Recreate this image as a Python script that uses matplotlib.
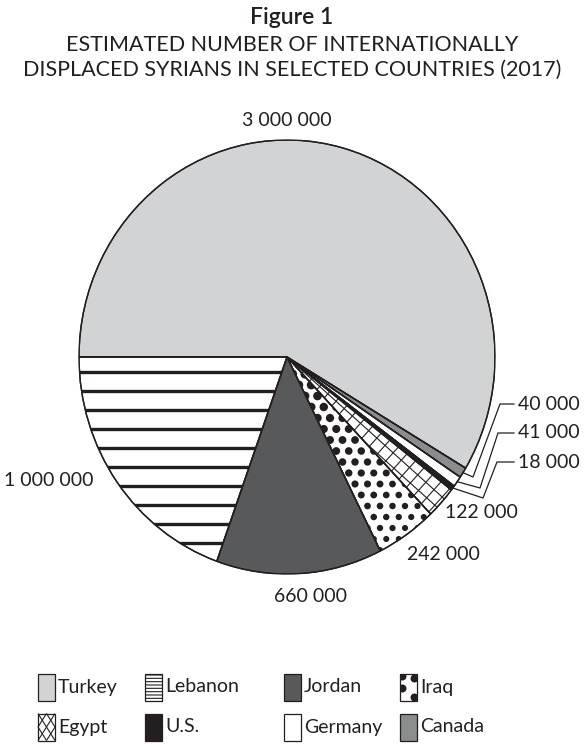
import numpy as np
import matplotlib.pyplot as plt
from matplotlib.patches import Rectangle, Wedge
from matplotlib.collections import LineCollection

# data, clockwise from the left edge
countries = ['Turkey', 'Canada', 'Germany', 'U.S.', 'Egypt', 'Iraq', 'Jordan', 'Lebanon']
people = [3000000, 40000, 41000, 18000, 122000, 242000, 660000, 1000000]
labels = ['3 000 000', '40 000', '41 000', '18 000', '122 000', '242 000', '660 000', '1 000 000']
colors = ['#d1d3d4', '#8a8c8e', 'white', '#231f20', 'white', 'white', '#58595b', 'white']
legend_order = ['Turkey', 'Lebanon', 'Jordan', 'Iraq', 'Egypt', 'U.S.', 'Germany', 'Canada']

FONT = 'Lato'
INK = '#231f20'
W, H = 584, 744
CX, CY, RX, RY = 287, 357, 208, 217   # pie centre / radii in pixels


def to_px(x, y):
    return CX + RX * x, CY - RY * y


def to_data(px, py):
    return (px - CX) / RX, (CY - py) / RY


fig = plt.figure(figsize=(W / 100, H / 100), dpi=100)
ax = fig.add_axes([(CX - RX) / W, (H - CY - RY) / H, 2 * RX / W, 2 * RY / H])
wedges, _ = ax.pie(people, colors=colors, startangle=180, counterclock=False,
                   radius=1, wedgeprops=dict(edgecolor=INK, linewidth=1.0))
ax.set_xlim(-1, 1)
ax.set_ylim(-1, 1)
ax.set_aspect('auto')
ax.axis('off')

# Lebanon: thick horizontal lines
leb = wedges[countries.index('Lebanon')]
segs = [[to_data(40, y), to_data(320, y)] for y in np.arange(372, 590, 19)]
lc = LineCollection(segs, colors=INK, linewidths=2.4, zorder=2)
ax.add_collection(lc)
lc.set_clip_path(leb)

# Egypt: grid turned along the slice
egy = wedges[countries.index('Egypt')]
phi = np.radians((egy.theta1 + egy.theta2) / 2)
d = np.array([np.cos(phi), -np.sin(phi)])
n = np.array([-d[1], d[0]])
segs = []
for k in range(-30, 31):
    for a, b in [(d, n), (n, d)]:
        p0 = np.array([CX, CY]) + b * k * 11 - a * 300
        p1 = np.array([CX, CY]) + b * k * 11 + a * 300
        segs.append([to_data(*p0), to_data(*p1)])
lc2 = LineCollection(segs, colors=INK, linewidths=0.8, zorder=2)
ax.add_collection(lc2)
lc2.set_clip_path(egy)

# Iraq: dots, smaller toward the rim
irq = wedges[countries.index('Iraq')]
pts = []
for j, py in enumerate(np.arange(352, 590, 11)):
    off = 6.25 if j % 2 else 0
    for px in np.arange(280 + off, 500, 12.5):
        pts.append((px, py))
pts = np.array(pts)
r = np.hypot((pts[:, 0] - CX) / RX, (pts[:, 1] - CY) / RY)
dia = 9.5 - 3.5 * r
xy = np.array([to_data(px, py) for px, py in pts])
sc = ax.scatter(xy[:, 0], xy[:, 1], s=(dia * 0.72) ** 2, color=INK, lw=0, zorder=2)
sc.set_clip_path(irq)

# outlines on top of the textures
for w in wedges:
    ax.add_patch(Wedge((0, 0), 1, w.theta1, w.theta2, fc='none', ec=INK, lw=1.0, zorder=3))

# overlay in pixel coordinates for text, leaders and legend
lay = fig.add_axes([0, 0, 1, 1])
lay.set_xlim(0, W)
lay.set_ylim(H, 0)
lay.axis('off')

lay.text(292, 18, 'Figure 1', ha='center', va='center', fontsize=16.5,
         family=FONT, weight='semibold', color=INK)
lay.text(292, 45, 'ESTIMATED NUMBER OF INTERNATIONALLY', ha='center', va='center',
         fontsize=15.5, family=FONT, color=INK)
lay.text(292, 70, 'DISPLACED SYRIANS IN SELECTED COUNTRIES (2017)', ha='center',
         va='center', fontsize=15.5, family=FONT, color=INK)

label_pos = [(287, 121, 'center'), (518, 404, 'left'), (518, 433, 'left'),
             (518, 462, 'left'), (445, 513, 'left'), (407, 555, 'left'),
             (311, 597, 'center'), (4, 481, 'left')]
for lab, (x, y, ha) in zip(labels, label_pos):
    lay.text(x, y, lab, ha=ha, va='center', fontsize=14, family=FONT, color=INK)

# leader lines for the three thin slices
elbows = {'Canada': [(473, 477), (500, 404), (514, 404)],
          'Germany': [(480, 488), (498, 433), (514, 433)],
          'U.S.': [(483, 498), (497, 462), (514, 462)]}
for name, pts_l in elbows.items():
    w = wedges[countries.index(name)]
    t = np.radians((w.theta1 + w.theta2) / 2)
    start = to_px(np.cos(t), np.sin(t))
    xs = [start[0]] + [p[0] for p in pts_l]
    ys = [start[1]] + [p[1] for p in pts_l]
    lay.plot(xs, ys, color=INK, lw=0.9)

# legend
cols_x = [38, 145, 284, 400]
rows_y = [687, 727]
bw, bh = 17, 27
plt.rcParams['hatch.linewidth'] = 0.8
for i, name in enumerate(legend_order):
    x0 = cols_x[i % 4]
    yc = rows_y[i // 4]
    y0 = yc - bh / 2
    c = colors[countries.index(name)]
    box = Rectangle((x0, y0), bw, bh, fc=c, ec=INK, lw=0.9, zorder=2)
    if name == 'Lebanon':
        box.set_hatch('-----')
    lay.add_patch(box)
    if name == 'Egypt':
        segs = [[(x0, y0), (x0 + bw, y0 + bh)], [(x0 + bw, y0), (x0, y0 + bh)],
                [(x0 + bw / 2, y0), (x0 + bw, y0 + bh / 2)],
                [(x0 + bw, y0 + bh / 2), (x0 + bw / 2, y0 + bh)],
                [(x0 + bw / 2, y0 + bh), (x0, y0 + bh / 2)],
                [(x0, y0 + bh / 2), (x0 + bw / 2, y0)]]
        lay.add_collection(LineCollection(segs, colors=INK, linewidths=0.8, zorder=3))
    if name == 'Iraq':
        dx = np.array([0.1, 0.85, 0.12, 0.85]) * bw + x0
        dy = np.array([0.1, 0.18, 0.55, 0.88]) * bh + y0
        s = lay.scatter(dx, dy, s=(8 * 0.72) ** 2, color=INK, lw=0, zorder=3)
        s.set_clip_path(box)
    lay.text(x0 + bw + 3, yc, name, ha='left', va='center', fontsize=14,
             family=FONT, color=INK)

fig.savefig('out.png', dpi=100)
